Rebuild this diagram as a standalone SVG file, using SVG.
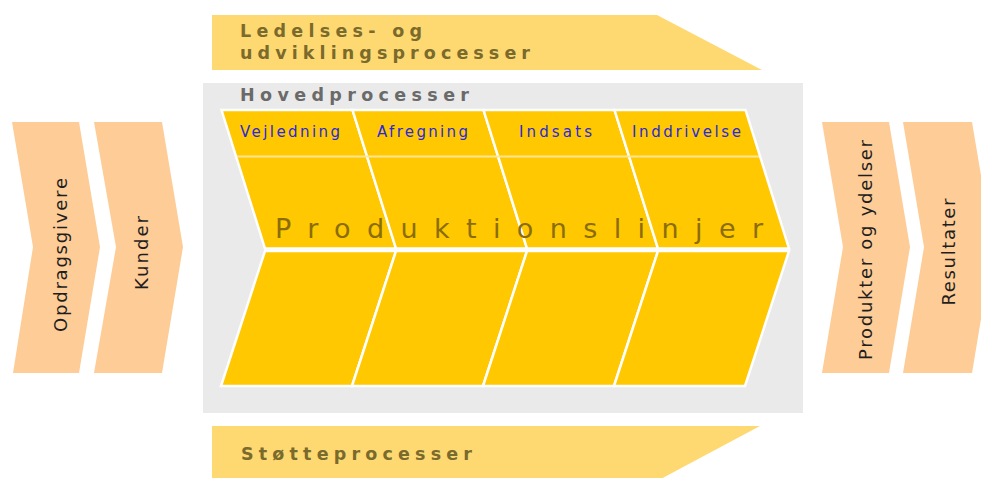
<svg xmlns="http://www.w3.org/2000/svg" width="981" height="478" viewBox="0 0 981 478">
<style>
.banner{fill:#fed972}
.peach{fill:#fecc97}
.cell{fill:#ffc800;stroke:#ffffff;stroke-width:2.5;stroke-linejoin:miter}
.btxt{font-family:"DejaVu Sans",Verdana,sans-serif;font-weight:bold;font-size:17.5px;fill:#7a6a2c}
.htxt{font-family:"DejaVu Sans",Verdana,sans-serif;font-weight:bold;font-size:17.5px;fill:#6a6a6a}
.col{font-family:"DejaVu Sans",Verdana,sans-serif;font-size:15px;fill:#2a2ad8}
.rot{font-family:"DejaVu Sans",Verdana,sans-serif;font-size:18px;fill:#1e1e1e}
.prod{font-family:"DejaVu Sans",Verdana,sans-serif;font-size:27px;fill:#8a6d08}
</style>
<rect width="981" height="478" fill="#ffffff"/>
<g id="ledelse">
<polygon class="banner" points="212,15 657,15 762,70 212,70"/>
<text class="btxt" x="240" y="37" textLength="182" lengthAdjust="spacing">Ledelses- og</text>
<text class="btxt" x="240" y="59" textLength="290" lengthAdjust="spacing">udviklingsprocesser</text>
</g>
<g id="hovedprocesser">
<rect x="203" y="83" width="600" height="330" fill="#eaeaea"/>
<text class="htxt" x="240" y="101" textLength="229" lengthAdjust="spacing">Hovedprocesser</text>
</g>
<g id="stotte">
<polygon class="banner" points="212,426 760,426 657,481 212,481"/>
<text class="btxt" x="241" y="460" textLength="231" lengthAdjust="spacing">Støtteprocesser</text>
</g>
<g id="opdragsgivere">
<polygon class="peach" points="12,122 79,122 100,247 79,373 13,373 33,247"/>
<text class="rot" transform="translate(67,255) rotate(-90)" text-anchor="middle" textLength="154" lengthAdjust="spacing">Opdragsgivere</text>
</g>
<g id="kunder">
<polygon class="peach" points="94,122 162,122 183,247 162,373 94,373 116,247"/>
<text class="rot" transform="translate(148,253) rotate(-90)" text-anchor="middle" textLength="74" lengthAdjust="spacing">Kunder</text>
</g>
<g id="produkter">
<polygon class="peach" points="822,122 889,122 910,247 889,373 822,373 843,247"/>
<text class="rot" transform="translate(872,250) rotate(-90)" text-anchor="middle" textLength="220" lengthAdjust="spacing">Produkter og ydelser</text>
</g>
<g id="resultater">
<polygon class="peach" points="903,122 972,122 993,247 972,373 903,373 924,247"/>
<text class="rot" transform="translate(955,252) rotate(-90)" text-anchor="middle" textLength="107" lengthAdjust="spacing">Resultater</text>
</g>
<g id="vejledning">
<polygon class="cell" points="221.5,110 352.5,110 396,248.5 265,248.5"/>
<polygon class="cell" points="265,251 396,251 352,386 221,386"/>
</g>
<g id="afregning">
<polygon class="cell" points="352.5,110 483.5,110 527,248.5 396,248.5"/>
<polygon class="cell" points="396,251 527,251 483,386 352,386"/>
</g>
<g id="indsats">
<polygon class="cell" points="483.5,110 614.5,110 658,248.5 527,248.5"/>
<polygon class="cell" points="527,251 658,251 614,386 483,386"/>
</g>
<g id="inddrivelse">
<polygon class="cell" points="614.5,110 745.5,110 789,248.5 658,248.5"/>
<polygon class="cell" points="658,251 789,251 745,386 614,386"/>
</g>
<g id="connectors">
<line x1="237" y1="156.5" x2="759" y2="156.5" stroke="#ffe594" stroke-width="2"/>
</g>
<g id="labels">
<text class="col" x="240" y="137" textLength="100" lengthAdjust="spacing">Vejledning</text>
<text class="col" x="377" y="137" textLength="91" lengthAdjust="spacing">Afregning</text>
<text class="col" x="519" y="137" textLength="73" lengthAdjust="spacing">Indsats</text>
<text class="col" x="632" y="137" textLength="109" lengthAdjust="spacing">Inddrivelse</text>
<text class="prod" x="275" y="238" textLength="488" lengthAdjust="spacing">Produktionslinjer</text>
</g>
</svg>
